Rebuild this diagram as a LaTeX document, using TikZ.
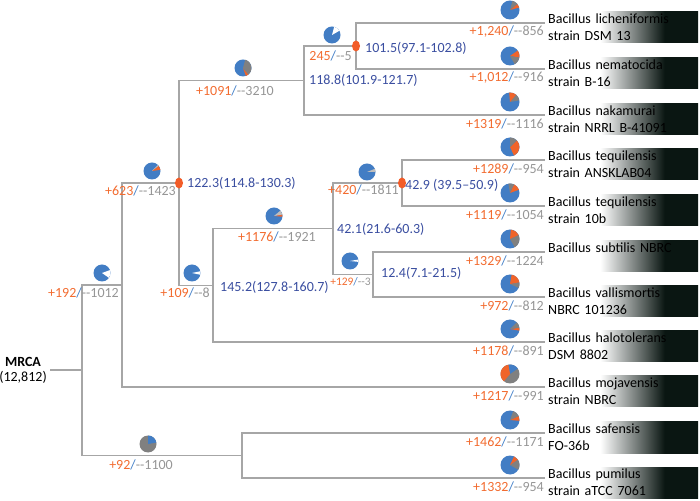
\documentclass[tikz,border=0pt]{standalone}
\usepackage{fontspec}
\setmainfont{Carlito}
\usepackage{tikz}

\definecolor{branchgray}{RGB}{166,166,166}
\definecolor{pieblue}{RGB}{66,125,196}
\definecolor{pieorange}{RGB}{240,100,42}
\definecolor{piegray}{RGB}{128,128,128}
\definecolor{pielight}{RGB}{190,190,190}
\definecolor{numorange}{RGB}{242,108,48}
\definecolor{numgray}{RGB}{150,150,150}
\definecolor{slashblue}{RGB}{68,128,200}
\definecolor{agenavy}{RGB}{58,78,160}
\definecolor{dotred}{RGB}{242,92,40}
\definecolor{boxdark}{RGB}{10,22,18}

\pgfdeclarehorizontalshading{leafshade}{100bp}{color(0bp)=(white); color(43bp)=(white); color(64bp)=(boxdark); color(100bp)=(boxdark)}

% gain / loss label
\newcommand{\gl}[2]{\textcolor{numorange}{#1}\textcolor{slashblue}{/}\textcolor{numgray}{-{}-#2}}
% pie: centre, radius, base colour, slices from/to/colour
\newcommand{\piechart}[4]{%
  \fill[#3] (#1) circle (#2);
  \foreach \from/\to/\cl in {#4} {\fill[fill=\cl] (#1) -- ++(\from:#2) arc[start angle=\from, end angle=\to, radius=#2] -- cycle;}
}

\begin{document}
\begin{tikzpicture}[x=1pt, y=1pt, font=\fontsize{14}{17}\selectfont,
        branch/.style={draw=branchgray, line width=1.5pt},
        gainloss/.style={anchor=east, inner sep=0pt},
        agelabel/.style={anchor=west, text=agenavy, inner sep=0pt},
        leafbox/.style={anchor=west, yshift=-4.5pt, shade, shading=leafshade,
            minimum width=153pt, minimum height=31pt, text width=147pt,
            align=left, inner xsep=3pt, inner ysep=0pt}]
        \useasboundingbox (0,0) rectangle (700,500);

        % Nodes
        \node[align=center, font=\fontsize{14}{15}\selectfont] (mrca) at (23,130) {\textbf{MRCA}\\(12,812)};
        \coordinate (nR) at (82,130);
        \coordinate (n192) at (122,215);
        \coordinate (n623) at (179,317);
        \coordinate (n1091) at (304,419.5);
        \coordinate (n245) at (356,454);
        \coordinate (n109) at (213,214.7);
        \coordinate (n1176) at (333,271.3);
        \coordinate (n420) at (402,317);
        \coordinate (n129) at (373,225.5);
        \coordinate (n92) at (242,44.5);

        \coordinate (t1) at (545,477);
        \coordinate (t2) at (545,431);
        \coordinate (t3) at (545,385);
        \coordinate (t4) at (545,340);
        \coordinate (t5) at (545,294);
        \coordinate (t6) at (545,248);
        \coordinate (t7) at (545,203);
        \coordinate (t8) at (545,158);
        \coordinate (t9) at (545,113);
        \coordinate (t10) at (545,67);
        \coordinate (t11) at (545,22);

        \node[leafbox] (lf1) at (t1) {Bacillus licheniformis\\strain DSM 13};
        \node[leafbox] (lf2) at (t2) {Bacillus nematocida\\strain B-16};
        \node[leafbox] (lf3) at (t3) {Bacillus nakamurai\\strain NRRL B-41091};
        \node[leafbox] (lf4) at (t4) {Bacillus tequilensis\\strain ANSKLAB04};
        \node[leafbox] (lf5) at (t5) {Bacillus tequilensis\\strain 10b};
        \node[leafbox] (lf6) at (t6) {Bacillus subtilis NBRC\\\mbox{}};
        \node[leafbox] (lf7) at (t7) {Bacillus vallismortis\\NBRC 101236};
        \node[leafbox] (lf8) at (t8) {Bacillus halotolerans\\DSM 8802};
        \node[leafbox] (lf9) at (t9) {Bacillus mojavensis\\strain NBRC};
        \node[leafbox] (lf10) at (t10) {Bacillus safensis\\FO-36b};
        \node[leafbox] (lf11) at (t11) {Bacillus pumilus\\strain aTCC 7061};

        % Edges
        \draw[branch] (mrca) -- (nR);
        \draw[branch] (nR) |- (n192);
        \draw[branch] (nR) |- (n92);
        \draw[branch] (n192) |- (n623);
        \draw[branch] (n192) |- (t9);
        \draw[branch] (n623) |- (n1091);
        \draw[branch] (n623) |- (n109);
        \draw[branch] (n1091) |- (n245);
        \draw[branch] (n1091) |- (t3);
        \draw[branch] (n245) |- (t1);
        \draw[branch] (n245) |- (t2);
        \draw[branch] (n109) |- (n1176);
        \draw[branch] (n109) |- (t8);
        \draw[branch] (n1176) |- (n420);
        \draw[branch] (n1176) |- (n129);
        \draw[branch] (n420) |- (t4);
        \draw[branch] (n420) |- (t5);
        \draw[branch] (n129) |- (t6);
        \draw[branch] (n129) |- (t7);
        \draw[branch] (n92) |- (t10);
        \draw[branch] (n92) |- (t11);

        % calibration dots
        \fill[dotred] (n623) ellipse [x radius=4, y radius=5.5];
        \fill[dotred] (n245) ellipse [x radius=4, y radius=5.5];
        \fill[dotred] (n420) ellipse [x radius=4, y radius=5.5];

        % gains / losses
        \node[gainloss] (g192) at (119,207) {\gl{+192}{1012}};
        \node[gainloss] (g623) at (176,309) {\gl{+623}{1423}};
        \node[gainloss] (g1091) at (274,409) {\gl{+1091}{3210}};
        \node[gainloss] (g245) at (352,444) {\gl{245}{5}};
        \node[gainloss] (g109) at (210,207) {\gl{+109}{8}};
        \node[gainloss] (g1176) at (316,263) {\gl{+1176}{1921}};
        \node[gainloss] (g420) at (399,310) {\gl{+420}{1811}};
        \node[gainloss, font=\fontsize{11.5}{13}\selectfont] (g129) at (371,218) {\gl{+129}{3}};
        \node[gainloss] (g92) at (173,35) {\gl{+92}{1100}};
        \node[gainloss] (gl1) at (544,468) {\gl{+1,240}{856}};
        \node[gainloss] (gl2) at (544,422) {\gl{+1,012}{916}};
        \node[gainloss] (gl3) at (544,376) {\gl{+1319}{1116}};
        \node[gainloss] (gl4) at (544,331) {\gl{+1289}{954}};
        \node[gainloss] (gl5) at (544,285) {\gl{+1119}{1054}};
        \node[gainloss] (gl6) at (544,239) {\gl{+1329}{1224}};
        \node[gainloss] (gl7) at (544,194) {\gl{+972}{812}};
        \node[gainloss] (gl8) at (544,149) {\gl{+1178}{891}};
        \node[gainloss] (gl9) at (544,104) {\gl{+1217}{991}};
        \node[gainloss] (gl10) at (544,58) {\gl{+1462}{1171}};
        \node[gainloss] (gl11) at (544,13) {\gl{+1332}{954}};

        % divergence times
        \node[agelabel] (a623) at (187,317) {122.3(114.8-130.3)};
        \node[agelabel] (a1091) at (309,419.5) {118.8(101.9-121.7)};
        \node[agelabel] (a245) at (365,452) {101.5(97.1-102.8)};
        \node[agelabel] (a109) at (220,213) {145.2(127.8-160.7)};
        \node[agelabel] (a1176) at (337,271) {42.1(21.6-60.3)};
        \node[agelabel] (a420) at (405,315) {42.9 (39.5–50.9)};
        \node[agelabel] (a129) at (381,227) {12.4(7.1-21.5)};

        % pies
        \piechart{102,227}{8.5}{pieblue}{-35/20/white}
        \piechart{152,329}{8.5}{pieblue}{8/38/pieorange, 38/46/pielight}
        \piechart{243,432}{8.5}{pieblue}{-70/-50/pieorange, -50/75/piegray}
        \piechart{332,465}{8.5}{pieblue}{30/75/white}
        \piechart{192,227}{8.5}{pieblue}{-12/12/white}
        \piechart{274,284}{8.5}{pieblue}{-5/10/pieorange, 10/40/pielight}
        \piechart{367,328}{8.5}{pieblue}{0/22/pielight}
        \piechart{350,239}{8.5}{pieblue}{-6/10/white}
        \piechart{148,56}{8.5}{piegray}{10/90/pieblue}
        \piechart{510,490}{9.5}{pieblue}{15/40/pieorange, 40/75/piegray}
        \piechart{510,444}{9.5}{pieblue}{-10/35/pieorange, -60/-10/piegray}
        \piechart{510,398}{9.5}{pieblue}{10/50/piegray, 50/95/pieorange}
        \piechart{510,353}{9.5}{pieblue}{-65/45/pieorange, 45/90/piegray}
        \piechart{510,307}{9.5}{pieblue}{20/65/pieorange, 65/100/piegray}
        \piechart{510,261}{9.5}{pieblue}{-60/25/piegray, 25/85/pieorange}
        \piechart{510,216}{9.5}{pieblue}{-25/10/piegray, 10/80/pieorange}
        \piechart{510,171}{9.5}{pieblue}{-10/8/pieorange, 8/45/piegray}
        \piechart{510,126}{9.5}{piegray}{35/100/pieblue, 100/230/pieorange}
        \piechart{510,80}{9.5}{pieblue}{-5/25/pieorange, 25/70/piegray}
        \piechart{510,35}{9.5}{pieblue}{-30/35/piegray, 35/65/pieorange}
\end{tikzpicture}
\end{document}
